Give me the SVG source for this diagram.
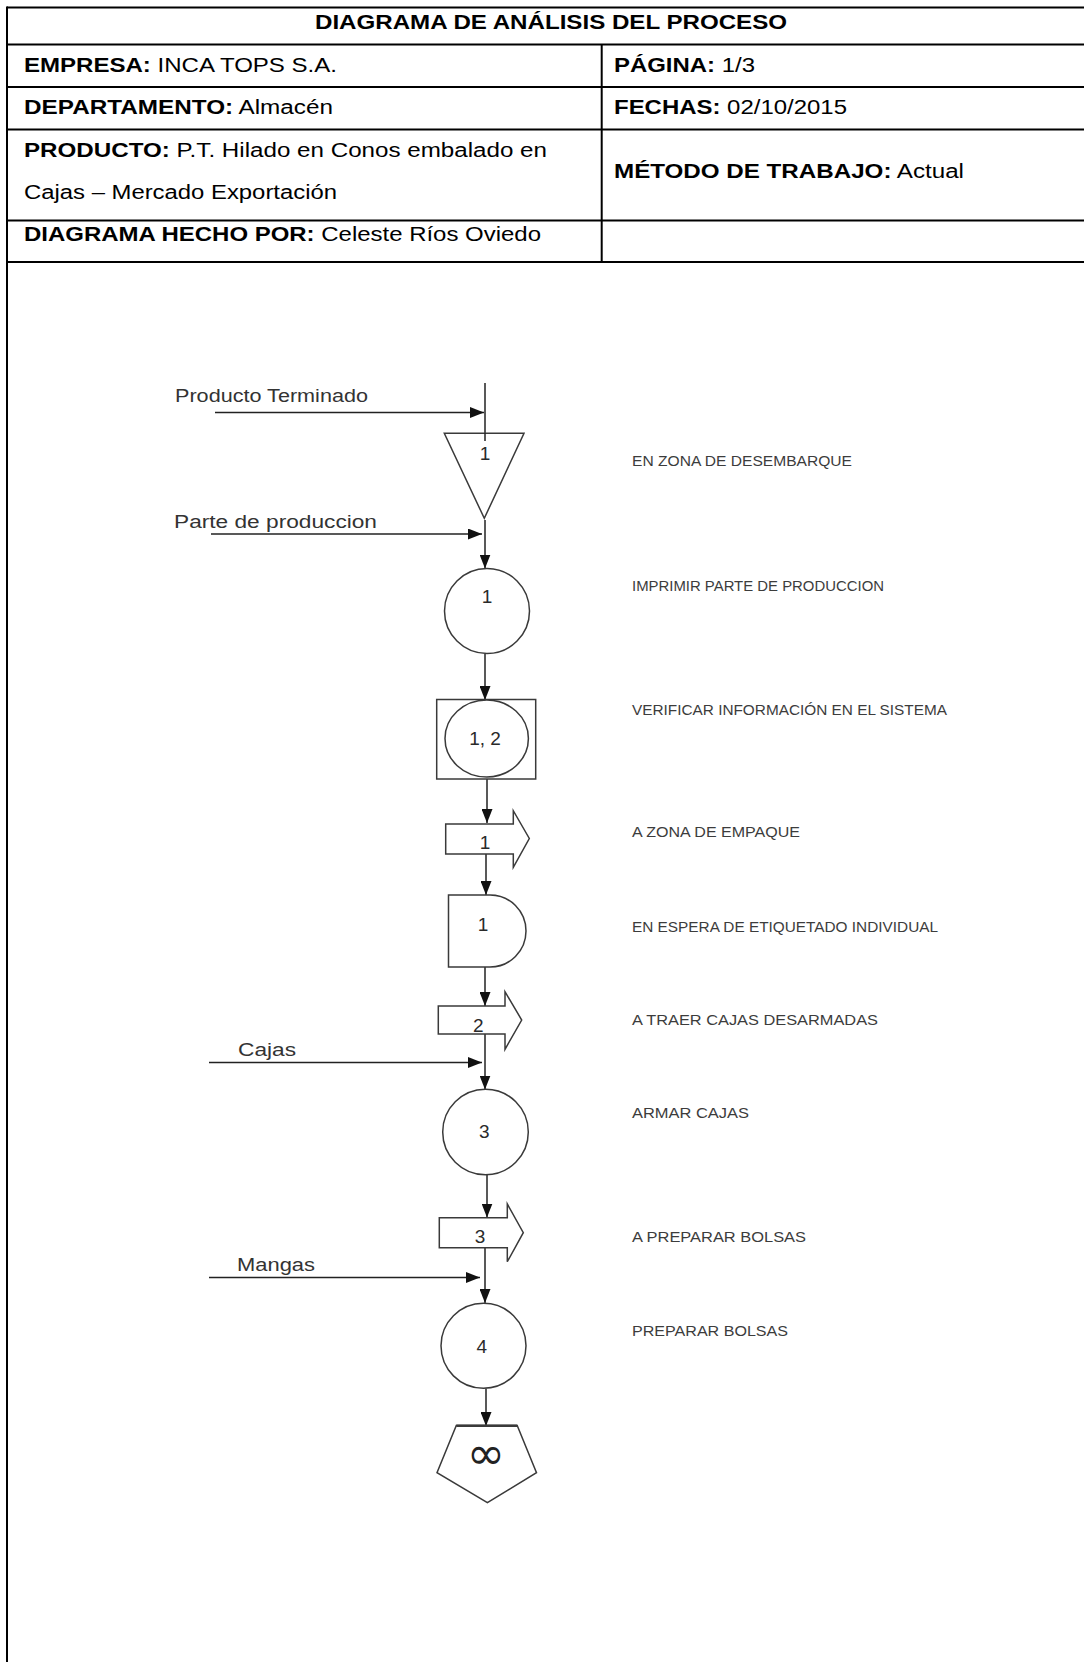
<svg xmlns="http://www.w3.org/2000/svg" width="1084" height="1662" viewBox="0 0 1084 1662">
  <style>
    .grid { stroke: #000; stroke-width: 2; fill: none; }
    .hdr { font-family: "Liberation Sans", Arial, sans-serif; font-size: 20px; fill: #000; }
    .hdr .b { font-weight: bold; }
    .shape { fill: #fff; stroke: #3a3a3a; stroke-width: 1.5; }
    .num { font-family: "Liberation Sans", Arial, sans-serif; font-size: 19px; fill: #2a2a2a; text-anchor: middle; }
    .input { font-family: "Liberation Sans", Arial, sans-serif; font-size: 17.5px; fill: #333; }
    .step { font-family: "Liberation Sans", Arial, sans-serif; font-size: 15px; fill: #3c3c3c; }
    .flow { stroke: #222; stroke-width: 1.5; fill: none; }
  </style>
  <defs>
    <marker id="arrow" markerUnits="userSpaceOnUse" markerWidth="14" markerHeight="11" refX="14" refY="5.5" orient="auto">
      <path d="M0,0 L14,5.5 L0,11 z" fill="#111"/>
    </marker>
  </defs>

  <rect width="1084" height="1662" fill="#fff"/>

  <!-- header table -->
  <g id="header">
    <line class="grid" x1="7" y1="7.5" x2="1084" y2="7.5"/>
    <line class="grid" x1="7" y1="44.5" x2="1084" y2="44.5"/>
    <line class="grid" x1="7" y1="87" x2="1084" y2="87"/>
    <line class="grid" x1="7" y1="129.5" x2="1084" y2="129.5"/>
    <line class="grid" x1="7" y1="220.5" x2="1084" y2="220.5"/>
    <line class="grid" x1="7" y1="262" x2="1084" y2="262"/>
    <line class="grid" x1="7" y1="6.5" x2="7" y2="1662"/>
    <line class="grid" x1="601.7" y1="44.5" x2="601.7" y2="262"/>

    <text class="hdr b" x="551" y="28.5" text-anchor="middle" font-weight="bold" textLength="472" lengthAdjust="spacingAndGlyphs">DIAGRAMA DE ANÁLISIS DEL PROCESO</text>
    <text class="hdr" x="24" y="72" textLength="313" lengthAdjust="spacingAndGlyphs"><tspan class="b">EMPRESA:</tspan> INCA TOPS S.A.</text>
    <text class="hdr" x="24" y="114" textLength="309" lengthAdjust="spacingAndGlyphs"><tspan class="b">DEPARTAMENTO:</tspan> Almacén</text>
    <text class="hdr" x="24" y="156.5" textLength="523" lengthAdjust="spacingAndGlyphs"><tspan class="b">PRODUCTO:</tspan> P.T. Hilado en Conos embalado en</text>
    <text class="hdr" x="24" y="199" textLength="313" lengthAdjust="spacingAndGlyphs">Cajas – Mercado Exportación</text>
    <text class="hdr" x="24" y="240.5" textLength="517" lengthAdjust="spacingAndGlyphs"><tspan class="b">DIAGRAMA HECHO POR:</tspan> Celeste Ríos Oviedo</text>
    <text class="hdr" x="614" y="72" textLength="141" lengthAdjust="spacingAndGlyphs"><tspan class="b">PÁGINA:</tspan> 1/3</text>
    <text class="hdr" x="614" y="114" textLength="233" lengthAdjust="spacingAndGlyphs"><tspan class="b">FECHAS:</tspan> 02/10/2015</text>
    <text class="hdr" x="614" y="178" textLength="350" lengthAdjust="spacingAndGlyphs"><tspan class="b">MÉTODO DE TRABAJO:</tspan> Actual</text>
  </g>

  <!-- connectors -->
  <g id="connectors">
    <line class="flow" x1="485" y1="383" x2="485" y2="441"/>
    <line class="flow" x1="215" y1="412.5" x2="484" y2="412.5" marker-end="url(#arrow)"/>
    <line class="flow" x1="485" y1="520" x2="485" y2="568.5" marker-end="url(#arrow)"/>
    <line class="flow" x1="211" y1="534" x2="482" y2="534" marker-end="url(#arrow)"/>
    <line class="flow" x1="485" y1="654" x2="485" y2="700" marker-end="url(#arrow)"/>
    <line class="flow" x1="487" y1="779" x2="487" y2="823" marker-end="url(#arrow)"/>
    <line class="flow" x1="486" y1="854" x2="486" y2="895" marker-end="url(#arrow)"/>
    <line class="flow" x1="485" y1="967" x2="485" y2="1006" marker-end="url(#arrow)"/>
    <line class="flow" x1="485" y1="1034" x2="485" y2="1089.5" marker-end="url(#arrow)"/>
    <line class="flow" x1="209" y1="1062.5" x2="482" y2="1062.5" marker-end="url(#arrow)"/>
    <line class="flow" x1="487" y1="1175" x2="487" y2="1217.5" marker-end="url(#arrow)"/>
    <line class="flow" x1="485" y1="1248" x2="485" y2="1303" marker-end="url(#arrow)"/>
    <line class="flow" x1="209" y1="1277.5" x2="480" y2="1277.5" marker-end="url(#arrow)"/>
    <line class="flow" x1="486" y1="1388.5" x2="486" y2="1426" marker-end="url(#arrow)"/>
  </g>

  <!-- incoming materials -->
  <g id="in-producto">
    <text class="input" x="175" y="402" textLength="193" lengthAdjust="spacingAndGlyphs">Producto Terminado</text>
  </g>
  <g id="in-parte">
    <text class="input" x="174" y="528" font-size="19" textLength="203" lengthAdjust="spacingAndGlyphs">Parte de produccion</text>
  </g>
  <g id="in-cajas">
    <text class="input" x="238" y="1056" font-size="20" textLength="58" lengthAdjust="spacingAndGlyphs">Cajas</text>
  </g>
  <g id="in-mangas">
    <text class="input" x="237" y="1271" font-size="20" textLength="78" lengthAdjust="spacingAndGlyphs">Mangas</text>
  </g>

  <!-- process symbols -->
  <g id="storage-1">
    <polygon class="shape" points="444.3,433.3 524,433.3 484.3,518.3"/>
    <line class="flow" x1="485" y1="433.3" x2="485" y2="441"/>
    <text class="num" x="485" y="460">1</text>
  </g>
  <g id="operation-1">
    <circle class="shape" cx="487" cy="611" r="42.5"/>
    <text class="num" x="487" y="603">1</text>
  </g>
  <g id="combined-1-2">
    <rect class="shape" x="436.7" y="699.5" width="99" height="79.5"/>
    <ellipse class="shape" cx="486.7" cy="738.5" rx="41.7" ry="38.5"/>
    <text class="num" x="485" y="745">1, 2</text>
  </g>
  <g id="transport-1">
    <polygon class="shape" points="445.7,824 513.3,824 513.3,810.7 529.3,838.5 513.3,867.3 513.3,854 445.7,854"/>
    <text class="num" x="485" y="849">1</text>
  </g>
  <g id="delay-1">
    <path class="shape" d="M448.5,895 H490 A36,36 0 0 1 490,967 H448.5 Z"/>
    <text class="num" x="483" y="931">1</text>
  </g>
  <g id="transport-2">
    <polygon class="shape" points="438.3,1006 505,1006 505,991.7 521.7,1020 505,1049.3 505,1034 438.3,1034"/>
    <text class="num" x="478.3" y="1031.5">2</text>
  </g>
  <g id="operation-3">
    <circle class="shape" cx="485.5" cy="1132" r="42.8"/>
    <text class="num" x="484.3" y="1138">3</text>
  </g>
  <g id="transport-3">
    <polygon class="shape" points="439.3,1217.7 507.3,1217.7 507.3,1204 523.3,1232.7 507.3,1261.7 507.3,1247.7 439.3,1247.7"/>
    <text class="num" x="480" y="1243">3</text>
  </g>
  <g id="operation-4">
    <circle class="shape" cx="483.5" cy="1345.8" r="42.5"/>
    <text class="num" x="481.7" y="1353">4</text>
  </g>
  <g id="end-storage">
    <polygon class="shape" points="456.3,1425.5 517.2,1425.5 536.5,1472.7 487.4,1502.7 437,1472.7"/>
    <line x1="456.3" y1="1425.8" x2="517.2" y2="1425.8" stroke="#3a3a3a" stroke-width="2.5"/>
    <text x="486" y="1469" font-family="DejaVu Sans, sans-serif" font-size="46" fill="#222" text-anchor="middle">∞</text>
  </g>

  <!-- step descriptions -->
  <g id="descriptions">
    <text class="step" x="632" y="466" textLength="220" lengthAdjust="spacingAndGlyphs">EN ZONA DE DESEMBARQUE</text>
    <text class="step" x="632" y="590.5" textLength="252" lengthAdjust="spacingAndGlyphs">IMPRIMIR PARTE DE PRODUCCION</text>
    <text class="step" x="632" y="715" textLength="315" lengthAdjust="spacingAndGlyphs">VERIFICAR INFORMACIÓN EN EL SISTEMA</text>
    <text class="step" x="632" y="837" textLength="168" lengthAdjust="spacingAndGlyphs">A ZONA DE EMPAQUE</text>
    <text class="step" x="632" y="931.5" textLength="306" lengthAdjust="spacingAndGlyphs">EN ESPERA DE ETIQUETADO INDIVIDUAL</text>
    <text class="step" x="632" y="1025" textLength="246" lengthAdjust="spacingAndGlyphs">A TRAER CAJAS DESARMADAS</text>
    <text class="step" x="632" y="1118" textLength="117" lengthAdjust="spacingAndGlyphs">ARMAR CAJAS</text>
    <text class="step" x="632" y="1242" textLength="174" lengthAdjust="spacingAndGlyphs">A PREPARAR BOLSAS</text>
    <text class="step" x="632" y="1335.5" textLength="156" lengthAdjust="spacingAndGlyphs">PREPARAR BOLSAS</text>
  </g>
</svg>
